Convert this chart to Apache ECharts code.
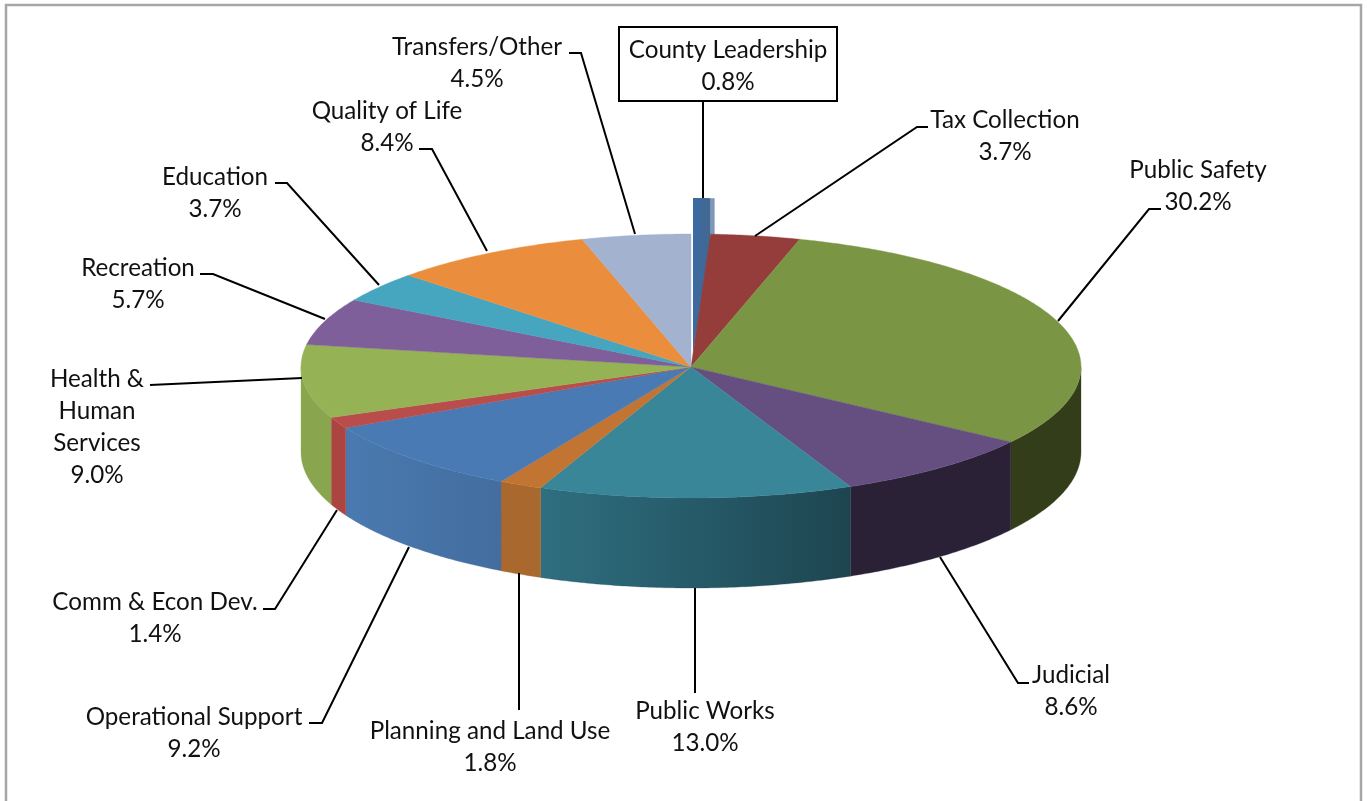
<!DOCTYPE html>
<html>
<head>
<meta charset="utf-8">
<style>html,body{margin:0;padding:0;background:#fff}#c{width:1367px;height:801px}</style>
<script src="https://cdn.jsdelivr.net/npm/echarts@6/dist/echarts.min.js"></script>
</head>
<body>
<div id="c"></div>
<script>
const categories = ['County Leadership','Tax Collection','Public Safety','Judicial','Public Works','Planning and Land Use','Operational Support','Comm & Econ Dev.','Health &\nHuman\nServices','Recreation','Education','Quality of Life','Transfers/Other'];
const shares = [0.8,3.7,30.2,8.6,13.0,1.8,9.2,1.4,9.0,5.7,3.7,8.4,4.5];
const topColors = ['#3f689b','#953d3b','#7a9544','#654f80','#3a8699','#c27432','#4a7ab3','#b94d4b','#95b255','#7f5f99','#46a5bf','#ea8e3e','#a2b2cf'];
const wallLeft = ['#7f97b8','#953d3b','#333d1a','#2a2137','#2f6f80','#a8682e','#4a7ab0','#ac4442','#89a64f','#7f5f99','#46a5bf','#ea8e3e','#a2b2cf'];
const wallRight = ['#7f97b8','#953d3b','#333d1a','#2a2137','#1d4550','#a8682e','#436d9f','#ac4442','#89a64f','#7f5f99','#46a5bf','#ea8e3e','#a2b2cf'];
// layout of the pie
const cx = 691, cy = 367, rx = 390, ryBack = 133, ryFront = 131, rimY = 452, rimRy = 136;
// annotation layout: label centre, first line centre, leader line
const labelCenters = [[728,50],[1005,120],[1198,170],[1071,675],[705,711],[490,731],[194,717],[155,602],[97,379],[138,268],[215,177],[387,111],[477,47]];
const leaders = [
 [[703,101],[703,198]],
 [[755,236],[917,127],[928,127]],
 [[1058,321],[1149,209],[1161,209]],
 [[940,557],[1018,683],[1029,683]],
 [[695,588],[695,693]],
 [[519,573],[519,710]],
 [[409,547],[322,723],[309,723]],
 [[337,510],[275,609],[263,609]],
 [[302,378],[150,385]],
 [[325,319],[213,274],[200,274]],
 [[379,285],[287,183],[275,183]],
 [[487,251],[432,149],[419,149]],
 [[635,234],[581,53],[569,53]]
];
const total = shares.reduce((a, b) => a + b, 0);
const starts = [];
shares.reduce((acc, v, i) => { starts[i] = acc; return acc + v; }, 0);
const toRad = s => s / total * Math.PI * 2;
function topPt(a) {
  const c = Math.cos(a);
  return [cx + rx * Math.sin(a), cy - c * (c >= 0 ? ryBack : ryFront)];
}
function rimPt(a) {
  return [cx + rx * Math.sin(a), rimY - Math.cos(a) * rimRy];
}
function arc(fn, a0, a1) {
  const n = Math.max(2, Math.ceil(Math.abs(a1 - a0) / 0.01));
  const out = [];
  for (let k = 0; k <= n; k++) out.push(fn(a0 + (a1 - a0) * k / n));
  return out;
}
function renderSlice(params, api) {
  const i = params.dataIndex;
  const a0 = toRad(starts[i]), a1 = toRad(starts[i] + api.value(0));
  const children = [];
  if (i === 0) {
    // pulled-out slice: stands taller than the pie, its lit side showing on the right
    const tip = [cx + 2, cy - 14];
    const wide = a => [cx + 2 + 430 * Math.sin(a), cy - 169 * Math.cos(a)];
    const face = a => [cx + 2 + 340 * Math.sin(a), cy - 169 * Math.cos(a)];
    const wideEnd = wide(a1), faceEnd = face(a1);
    children.push({type:'polygon', shape:{points:[tip].concat(arc(wide,a0,a1),[[wideEnd[0],cy-125]])}, style:{fill:wallLeft[i]}});
    children.push({type:'polygon', shape:{points:[tip].concat(arc(face,a0,a1),[[faceEnd[0],cy-125]])}, style:{
      fill:new echarts.graphic.LinearGradient(0,0,1,0,[{offset:0,color:'#3b6aa2'},{offset:1,color:'#426890'}])}});
    return {type:'group', children};
  }
  const w0 = Math.max(a0, Math.PI / 2), w1 = Math.min(a1, Math.PI * 1.5);
  if (w1 > w0) {
    const pts = arc(topPt, w0, w1).concat(arc(rimPt, w1, w0));
    children.push({type:'polygon', shape:{points:pts}, style:{
      fill:new echarts.graphic.LinearGradient(0,0,1,0,[{offset:0,color:wallLeft[i]},{offset:1,color:wallRight[i]}]),
      stroke:wallRight[i], lineWidth:0.3}});
  }
  children.push({type:'polygon', shape:{points:[[cx,cy]].concat(arc(topPt,a0,a1))},
    style:{fill:topColors[i], stroke:topColors[i], lineWidth:0.4}});
  return {type:'group', children};
}
function renderLabel(params, api) {
  const i = params.dataIndex;
  const lh = 32, fs = 24.2;
  const [lx, ly] = labelCenters[i];
  const children = [];
  if (i === 0) {
    children.push({type:'rect', shape:{x:619,y:27,width:218,height:74}, style:{fill:'#fff',stroke:'#000',lineWidth:2}});
  }
  children.push({type:'polyline', shape:{points:leaders[i]}, style:{fill:'none',stroke:'#000',lineWidth:2}});
  children.push({type:'text', x:lx, y:ly - lh / 2, style:{
    text:categories[i] + '\n' + api.value(0).toFixed(1) + '%',
    fontFamily:'Lato', fontSize:fs, lineHeight:lh, fill:'#111', align:'center', verticalAlign:'top'}});
  return {type:'group', children};
}
const chart = echarts.init(document.getElementById('c'), null, {renderer:'canvas'});
chart.setOption({
  animation:false,
  backgroundColor:'#fff',
  graphic:[{type:'rect', z:-1, shape:{x:6,y:5,width:1355,height:810}, style:{fill:'#fff',stroke:'#a6a6a6',lineWidth:2.5}}],
  series:[
    {type:'custom', coordinateSystem:'none', z:2, silent:true, renderItem:renderSlice, data:shares.map((v,i)=>({name:categories[i],value:v}))},
    {type:'custom', coordinateSystem:'none', z:3, silent:true, renderItem:renderLabel, data:shares.map((v,i)=>({name:categories[i],value:v}))}
  ]
});
</script>
</body>
</html>
